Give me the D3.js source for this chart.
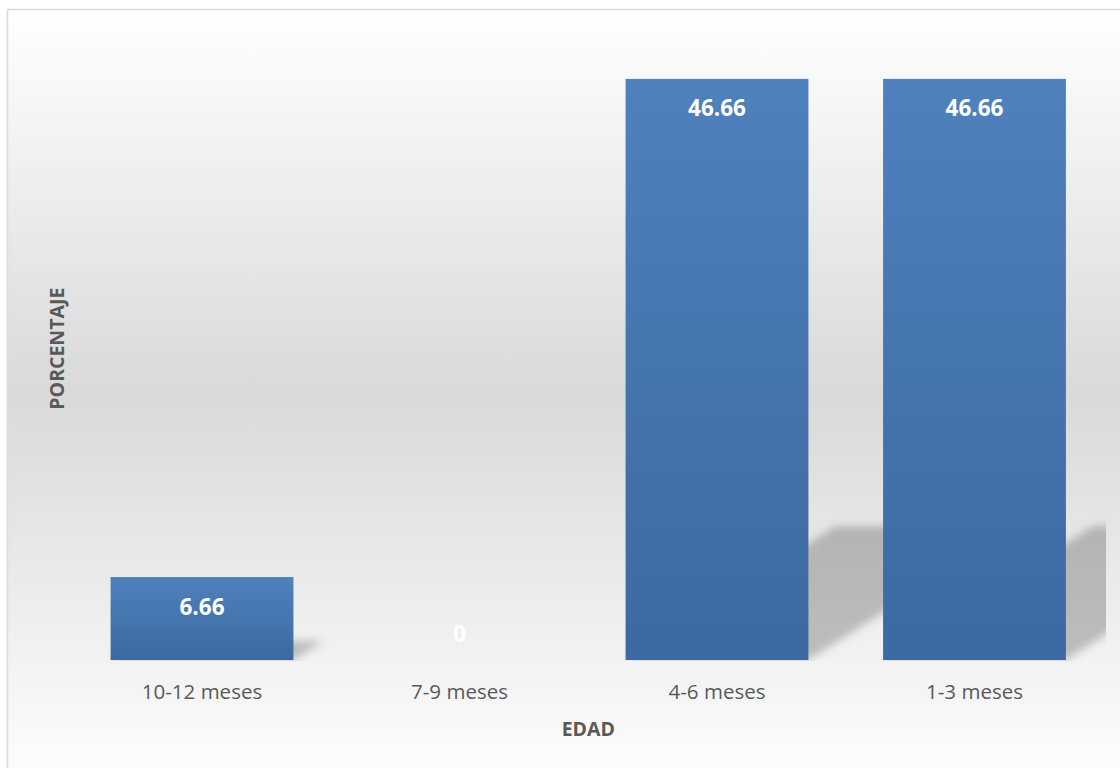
<!DOCTYPE html>
<html>
<head>
<meta charset="utf-8">
<script src="https://cdn.jsdelivr.net/npm/d3@7/dist/d3.min.js"></script>
<style>
  html, body { margin: 0; padding: 0; background: #ffffff; }
  svg { display: block; }
  text { font-family: "Open Sans", "Noto Sans", sans-serif; }
</style>
</head>
<body>
<svg id="chart" width="1120" height="768"></svg>
<script>
// Data
const categories = ["10-12 meses", "7-9 meses", "4-6 meses", "1-3 meses"];
const values = [6.66, 0, 46.66, 46.66];
const yDomain = [0, 50];
const xTitle = "EDAD";
const yTitle = "PORCENTAJE";

const W = 1120, H = 768;
const plot = { left: 73.25, right: 1103.25, top: 37.3, bottom: 660 };

const svg = d3.select("#chart");
const defs = svg.append("defs");

// Chart background: white -> light gray -> white vertical gradient
const bg = defs.append("linearGradient")
  .attr("id", "bgGrad").attr("x1", 0).attr("y1", 0).attr("x2", 0).attr("y2", 1);
bg.append("stop").attr("offset", "0").attr("stop-color", "#ffffff");
bg.append("stop").attr("offset", "0.5").attr("stop-color", "#d9d9d9");
bg.append("stop").attr("offset", "1").attr("stop-color", "#fdfdfd");

// Bar fill gradient
const bar = defs.append("linearGradient")
  .attr("id", "barGrad").attr("x1", 0).attr("y1", 0).attr("x2", 0).attr("y2", 1);
bar.append("stop").attr("offset", "0").attr("stop-color", "#4f81bd");
bar.append("stop").attr("offset", "1").attr("stop-color", "#3c69a1");

// Soft shadow blur
defs.append("filter")
  .attr("id", "shadowBlur")
  .attr("filterUnits", "userSpaceOnUse")
  .attr("x", 0).attr("y", 0).attr("width", W).attr("height", H)
  .append("feGaussianBlur").attr("stdDeviation", 4);

defs.append("clipPath").attr("id", "plotClip")
  .append("rect")
  .attr("x", plot.left - 10).attr("y", 0)
  .attr("width", 1106 - (plot.left - 10)).attr("height", plot.bottom + 1);

// Chart frame
svg.append("rect")
  .attr("x", 7.5).attr("y", 9.5)
  .attr("width", W).attr("height", H)
  .attr("fill", "url(#bgGrad)")
  .attr("stroke", "#d9d9d9").attr("stroke-width", 1.5);

const x = d3.scaleBand()
  .domain(categories)
  .range([plot.left, plot.right])
  .paddingInner(0.29)
  .paddingOuter(0.145);

const y = d3.scaleLinear()
  .domain(yDomain)
  .range([plot.bottom, plot.top]);

const data = categories.map((c, i) => ({ cat: c, value: values[i] }));

// Perspective shadows cast up and to the right of each bar
const shadowScaleY = 0.23, shadowSkew = 1.57;
svg.append("g")
  .attr("clip-path", "url(#plotClip)")
  .append("g")
  .attr("filter", "url(#shadowBlur)")
  .selectAll("path")
  .data(data.filter(d => d.value > 0))
  .join("path")
  .attr("d", d => {
    const x0 = x(d.cat), x1 = x0 + x.bandwidth();
    const yb = y(0);
    const hs = (y(0) - y(d.value)) * shadowScaleY;
    const dx = hs * shadowSkew;
    return `M${x0},${yb}L${x1},${yb}L${x1 + dx},${yb - hs}L${x0 + dx},${yb - hs}Z`;
  })
  .attr("fill", "#000000")
  .attr("fill-opacity", 0.22);

// Bars
svg.append("g")
  .selectAll("rect")
  .data(data)
  .join("rect")
  .attr("x", d => x(d.cat))
  .attr("y", d => y(d.value))
  .attr("width", x.bandwidth())
  .attr("height", d => y(0) - y(d.value))
  .attr("fill", "url(#barGrad)");

// Value labels inside the top of each bar
svg.append("g")
  .selectAll("text")
  .data(data)
  .join("text")
  .attr("x", d => x(d.cat) + x.bandwidth() / 2)
  .attr("y", d => Math.min(y(d.value) + 29, y(0) - 27))
  .attr("text-anchor", "middle")
  .attr("dominant-baseline", "central")
  .attr("font-size", "22.5px")
  .attr("font-weight", "bold")
  .attr("fill", "#ffffff")
  .text(d => d.value);

// Category axis (labels only)
const xAxis = svg.append("g")
  .attr("transform", `translate(0,${plot.bottom})`)
  .call(d3.axisBottom(x).tickSize(0).tickPadding(0));
xAxis.select(".domain").remove();
xAxis.selectAll("text")
  .attr("dy", null)
  .attr("y", 31)
  .attr("dominant-baseline", "central")
  .attr("font-size", "20.5px")
  .attr("font-family", "\"Open Sans\", sans-serif")
  .attr("fill", "#595959");

// Axis titles
svg.append("text")
  .attr("x", (plot.left + plot.right) / 2)
  .attr("y", 728)
  .attr("text-anchor", "middle")
  .attr("dominant-baseline", "central")
  .attr("font-size", "19.5px")
  .attr("font-weight", "bold")
  .attr("fill", "#595959")
  .text(xTitle);

svg.append("text")
  .attr("transform", `translate(56,${(plot.top + plot.bottom) / 2}) rotate(-90)`)
  .attr("text-anchor", "middle")
  .attr("dominant-baseline", "central")
  .attr("font-size", "19.5px")
  .attr("font-weight", "bold")
  .attr("fill", "#595959")
  .text(yTitle);
</script>
</body>
</html>
